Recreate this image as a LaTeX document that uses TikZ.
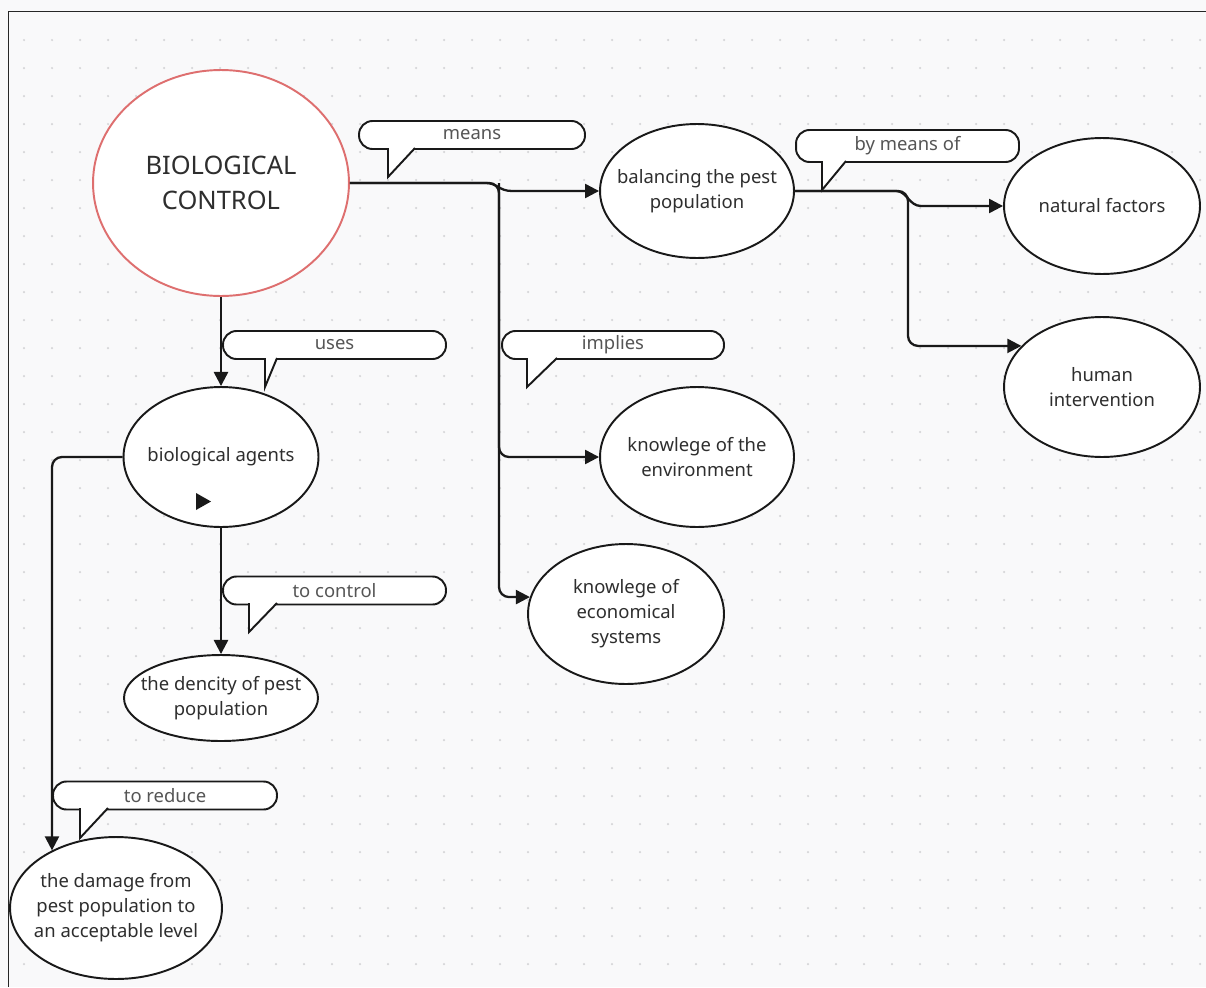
\documentclass[tikz,border=0pt]{standalone}
\usepackage{fontspec}
\setmainfont{Noto Sans}
\usetikzlibrary{arrows.meta, shapes.geometric}
\definecolor{canvas}{HTML}{F9F9FA}
\definecolor{griddot}{HTML}{D6D6D8}
\definecolor{inkgray}{HTML}{2E2E2E}
\definecolor{notegray}{HTML}{555555}
\definecolor{rootred}{HTML}{DE6F6F}

\begin{document}
\begin{tikzpicture}[x=0.02cm, y=-0.02cm,
    every node/.style={text=inkgray},
    concepttext/.style={align=center, inner sep=0pt, font=\fontsize{10.5}{14.2}\selectfont},
    concept/.style={
        ellipse,
        draw=black!90,
        fill=white,
        line width=1.1pt,
        inner sep=0pt,
        label={[concepttext]center:#1}
    },
    root/.style={
        concept={},
        draw=rootred,
        label={[concepttext, font=\fontsize{14.5}{20}\selectfont]center:#1}
    },
    note/.style={
        rectangle,
        rounded corners=0.27cm,
        draw=black!90,
        fill=white,
        line width=1.1pt,
        minimum width=4.46cm,
        minimum height=0.56cm,
        inner sep=0pt,
        text=notegray,
        font=\fontsize{10.5}{12}\selectfont
    },
    tail/.style={draw=black!90, fill=white, line width=1.1pt, line join=miter},
    arrow/.style={-{Triangle[length=8pt, width=8pt]}, line width=1.3pt, color=black!90}
]

% CANVAS
\useasboundingbox (0,0) rectangle (1206,987);
\fill[canvas] (0,0) rectangle (1206,987);
\foreach \gx in {0,...,42}
    \foreach \gy in {0,...,33}
        \fill[griddot] (24+28*\gx, 40+28*\gy) circle[radius=0.025cm];
\draw[line width=1.1pt, color=black!85] (8.5,987) -- (8.5,11.5) -- (1206,11.5);

% NODES
\node[root={BIOLOGICAL\\CONTROL}, minimum width=5.12cm, minimum height=4.52cm] (bc) at (221,183) {};
\node[concept={balancing the pest\\population}, minimum width=3.88cm, minimum height=2.68cm] (bal) at (697,191) {};
\node[concept={natural factors}, minimum width=3.92cm, minimum height=2.72cm] (nat) at (1102,206) {};
\node[concept={human\\intervention}, minimum width=3.92cm, minimum height=2.8cm] (hum) at (1102,387) {};
\node[concept={knowlege of the\\environment}, minimum width=3.88cm, minimum height=2.8cm] (env) at (697,457) {};
\node[concept={knowlege of\\economical\\systems}, minimum width=3.92cm, minimum height=2.8cm] (eco) at (626,614) {};
\node[concept={biological agents}, minimum width=3.9cm, minimum height=2.8cm] (bio) at (221,457) {};
\node[concept={the dencity of pest\\population}, minimum width=3.88cm, minimum height=1.72cm] (den) at (221,698) {};
\node[concept={the damage from\\pest population to\\an acceptable level}, minimum width=4.24cm, minimum height=2.84cm] (dam) at (116,908) {};
\fill[black!90] (196,493) -- (196,510) -- (211,501.5) -- cycle;

% ARROWS
\coordinate (jointA) at (499,183);
\coordinate (jointB) at (908,191);
\draw[arrow] (bc.east) -- (486,183) .. controls (497,183) and (499,191) .. (512,191) -- (bal.west);
\draw[arrow, rounded corners=0.2cm] (bc.east) -- (jointA) |- (eco.170);
\draw[arrow, rounded corners=0.2cm] (jointA) |- (env.west);
\draw[arrow] (bal.east) -- (896,191) .. controls (907,191) and (909,206) .. (921,206) -- (nat.west);
\draw[arrow, rounded corners=0.2cm] (bal.east) -- (jointB) |- (hum.153);
\draw[arrow] (bc.south) -- (bio.north);
\draw[arrow] (bio.south) -- (den.north);
\draw[arrow, rounded corners=0.2cm] (bio.west) -| (dam.138);

% LINK LABELS
\node[note, minimum width=4.52cm] (means) at (472,135) {means};
\filldraw[tail] (388,148) -- (388,177) -- (415,148);
\node[note, minimum height=0.64cm] (bymeans) at (907.5,146) {by means of};
\filldraw[tail] (822,161) -- (822,190) -- (846,161);
\node[note] (uses) at (334.5,345) {uses};
\filldraw[tail] (265,358) -- (265,387) -- (277,358);
\node[note, minimum width=4.44cm] (implies) at (613,345) {implies};
\filldraw[tail] (527,358) -- (527,387) -- (557,358);
\node[note] (tocontrol) at (334.5,590.5) {to control};
\filldraw[tail] (249,603) -- (249,632) -- (277,603);
\node[note, minimum width=4.48cm] (toreduce) at (165,795.5) {to reduce};
\filldraw[tail] (80,808) -- (80,838) -- (108,808);

\end{tikzpicture}
\end{document}
